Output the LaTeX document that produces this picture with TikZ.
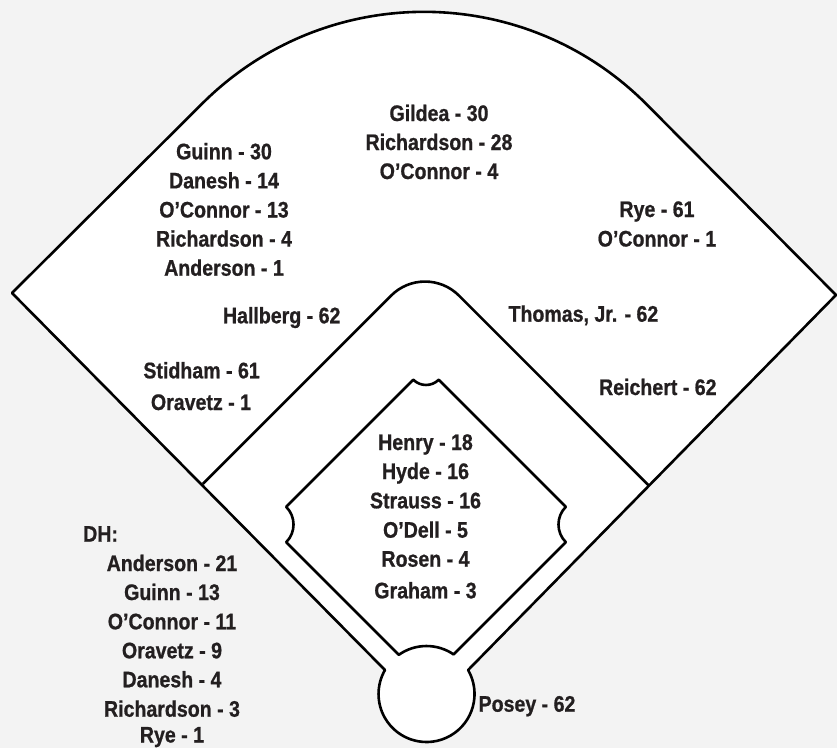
\documentclass[tikz,border=0pt]{standalone}
\usepackage{fontspec}
\setmainfont{Liberation Sans}[FakeStretch=0.87, FakeBold=0.8]
\definecolor{txt}{HTML}{231F20}
\definecolor{bg}{HTML}{F3F3F3}
\begin{document}
\begin{tikzpicture}[x=1pt,y=-1pt,
  lbl/.style={font=\fontsize{22.5}{27}\selectfont\bfseries, text=txt, inner sep=0pt, anchor=base},
  fieldline/.style={line width=2.6pt, line join=round, draw=black}]
\useasboundingbox (0,0) rectangle (837,748);
\fill[bg] (0,0) rectangle (837,748);
% outer field
\draw[fieldline, fill=white] (12,293) -- (202,103.8)
  arc[start angle=225, end angle=315, radius=314] -- (836,295) -- (468.1,670)
  arc[start angle=-30, end angle=210, radius=48] -- cycle;
% infield edge
\draw[fieldline] (202.8,483.9) -- (391.1,295.6)
  arc[start angle=225, end angle=315, radius=48] -- (649,485.7);
% diamond
\draw[fieldline, fill=white] (413.3,379.7)
  arc[start angle=135, end angle=45, radius=18] -- (565.8,506.8)
  arc[start angle=225, end angle=135, radius=25] -- (453.6,654.4)
  arc[start angle=-55.6, end angle=-125.2, radius=48] -- (286.2,542.2)
  arc[start angle=45, end angle=-45, radius=25] -- cycle;
% labels
\foreach \t [count=\i] in {Gildea - 30, Richardson - 28, O’Connor - 4}
  \node[lbl] (cf\i) at (439,{121+29*(\i-1)}) {\t};
\foreach \t [count=\i] in {Guinn - 30, Danesh - 14, O’Connor - 13, Richardson - 4, Anderson - 1}
  \node[lbl] (lf\i) at (224,{159.3+29.1*(\i-1)}) {\t};
\foreach \t [count=\i] in {Rye - 61, O’Connor - 1}
  \node[lbl] (rf\i) at (657,{217+29.5*(\i-1)}) {\t};
\node[lbl] (ss) at (281.7,323.3) {Hallberg - 62};
\node[lbl] (sb) at (583.4,321.7) {Thomas, Jr. - 62};
\node[lbl] (tb1) at (201.6,378.3) {Stidham - 61};
\node[lbl] (tb2) at (201,410) {Oravetz - 1};
\node[lbl] (fb) at (657.8,395) {Reichert - 62};
\foreach \t/\yy [count=\i] in {Henry - 18/450, Hyde - 16/479, Strauss - 16/508.3, O’Dell - 5/537.7, Rosen - 4/566.7, Graham - 3/598.3}
  \node[lbl] (p\i) at (425.5,\yy) {\t};
\node[lbl, anchor=base west] (dh) at (83,541.7) {DH:};
\foreach \t/\yy [count=\i] in {Anderson - 21/571, Guinn - 13/600, O’Connor - 11/629.3, Oravetz - 9/658.3, Danesh - 4/687.3, Richardson - 3/716.7, Rye - 1/742.5}
  \node[lbl] (dh\i) at (172,\yy) {\t};
\node[lbl] (c) at (527,711.7) {Posey - 62};
\end{tikzpicture}
\end{document}
